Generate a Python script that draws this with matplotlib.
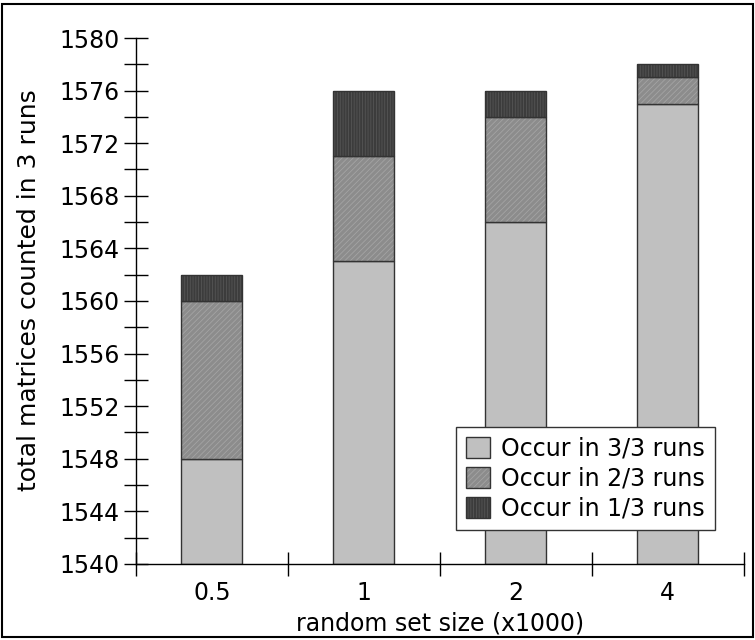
import matplotlib.pyplot as plt
from matplotlib.patches import Rectangle
from matplotlib.ticker import MultipleLocator, FixedLocator, NullFormatter

## counts of matrices per random set size, split by how many of the 3 runs found them
sizes = ['0.5', '1', '2', '4']
occur_3of3 = [1548, 1563, 1566, 1575]
occur_2of3 = [12, 8, 8, 2]
occur_1of3 = [2, 5, 2, 1]

labels = ['Occur in 3/3 runs', 'Occur in 2/3 runs', 'Occur in 1/3 runs']
faces = ['#c0c0c0', '#8c8c8c', '#3c3c3c']
hatch_cols = ['#c0c0c0', '#a4a4a4', '#555555']
hatches = [None, '//////', '||||||']
edge = '#333333'

plt.rcParams['hatch.linewidth'] = 0.6

fig = plt.figure(figsize=(7.55, 6.4), dpi=100)
ax = fig.add_axes([0.180, 0.119, 0.805, 0.8216])

x = list(range(len(sizes)))
base_val = 1540
# stacked segments: bottoms and heights measured from the axis floor
bottoms = [[base_val] * len(x),
           list(occur_3of3),
           [a + b for a, b in zip(occur_3of3, occur_2of3)]]
heights = [[v - base_val for v in occur_3of3], occur_2of3, occur_1of3]

handles = []
for h, b, fc, hc, ht, lab in zip(heights, bottoms, faces, hatch_cols, hatches, labels):
    fill = ax.bar(x, h, bottom=b, width=0.4, color=fc, edgecolor=hc,
                  hatch=ht, linewidth=0)
    outline = ax.bar(x, h, bottom=b, width=0.4, fill=False,
                     edgecolor=edge, linewidth=1.0)
    handles.append((fill[0], outline[0]))

ax.set_xlim(-0.5, 3.5)
ax.set_ylim(1540, 1580)

# y axis: labelled every 4, unlabelled ticks every 2
ax.yaxis.set_major_locator(MultipleLocator(4))
ax.yaxis.set_minor_locator(MultipleLocator(2))
ax.tick_params(axis='y', which='both', direction='inout', length=17,
               width=1, labelsize=17, pad=3)

# x axis: tick marks on group boundaries, labels on group centres
ax.xaxis.set_major_locator(FixedLocator([-0.5, 0.5, 1.5, 2.5, 3.5]))
ax.xaxis.set_major_formatter(NullFormatter())
ax.xaxis.set_minor_locator(FixedLocator(x))
ax.set_xticklabels(sizes, minor=True)
ax.tick_params(axis='x', which='major', direction='inout', length=17, width=1)
ax.tick_params(axis='x', which='minor', length=0, labelsize=17, pad=12)

for side in ['top', 'right']:
    ax.spines[side].set_visible(False)
for side in ['left', 'bottom']:
    ax.spines[side].set_linewidth(1)

ax.set_ylabel('total matrices counted in 3 runs', fontsize=18)
ax.yaxis.set_label_coords(-0.156, 0.52)
ax.set_xlabel('random set size (x1000)', fontsize=17, labelpad=5)

leg = ax.legend(handles, labels, loc='lower right',
                bbox_to_anchor=(0.952, 0.065), borderaxespad=0,
                fontsize=17, fancybox=False, framealpha=1, edgecolor=edge,
                handlelength=1.0, handleheight=1.0, handletextpad=0.5,
                labelspacing=0.25, borderpad=0.4)
leg.get_frame().set_linewidth(1)

# frame round the whole figure
fig.patches.append(Rectangle((0.003, 0.004), 0.994, 0.99, transform=fig.transFigure,
                             fill=False, edgecolor='black', linewidth=1.5))

fig.savefig('out.png', dpi=100)
